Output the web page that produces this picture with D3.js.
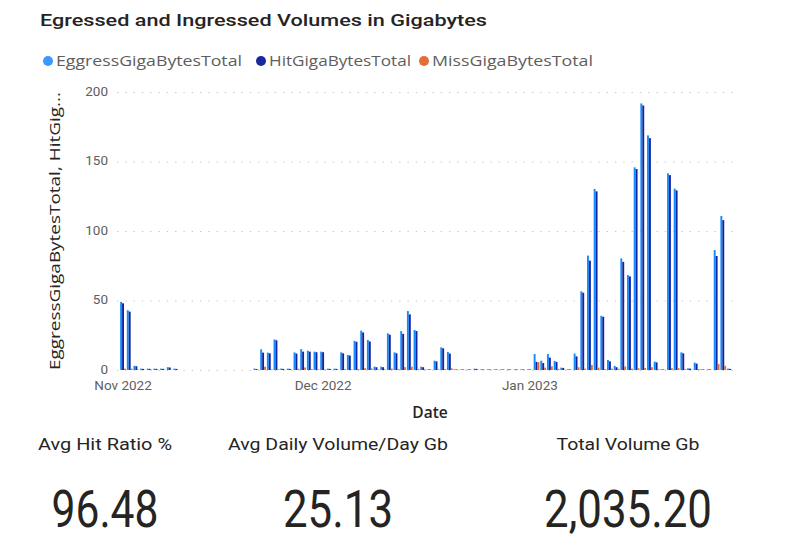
<!DOCTYPE html>
<html>
<head>
<meta charset="utf-8">
<script src="https://cdn.jsdelivr.net/npm/d3@7"></script>
<style>
  html, body { margin: 0; padding: 0; background: #fff; }
  svg { display: block; }
</style>
</head>
<body>
<svg id="chart" width="790" height="544"></svg>
<script>
// ---------- DATA ----------
const startDate = "2022-11-01";
const endDate = "2023-01-31";
const seriesNames = ["EggressGigaBytesTotal", "HitGigaBytesTotal", "MissGigaBytesTotal"];
const seriesColors = ["#118DFF", "#12239E", "#E66C37"];
const yTicks = [0, 50, 100, 150, 200];
const monthTicks = ["2022-11-01", "2022-12-01", "2023-01-01"];
const monthLabels = ["Nov 2022", "Dec 2022", "Jan 2023"];

// daily values, Nov 1 2022 .. Jan 31 2023 (null = no data)
const egress = [
  49, 43, 3, 1, 1, 1, 1, 2, 1,
  null, null, null, null, null, null, null, null, null, null, null,
  1, 14.9, 12.5, 22, 1, 1, 12.7, 15, 13.9, 13.2,
  13.2, 1, 1, 12.7, 10.8, 21, 28.3, 21.6, 2.4, 2.4, 26.4, 12.7, 28, 42.4, 28.8, 2.4, 0.5, 6.7, 16.3, 13,
  0.5, 0.5, 0.5, 1, 0.5, 0.5, 0.5, 0.5, 0.5, 0.5, 0.5,
  0.5, 11.5, 6.7, 11.5, 6.5, 1.7, 0.5, 11.8, 56.6, 82.3, 130.2, 39, 7.2, 2.9, 80.3, 68.3, 145.8, 191.8, 168.8,
  6, 0.5, 141.5, 130.5, 12.7, 1.2, 5.3, 0.5, 0.5, 86.3, 110.8, 1
];
const hit = [
  48, 42, 2.7, 0.8, 0.8, 0.8, 0.8, 1.8, 0.8,
  null, null, null, null, null, null, null, null, null, null, null,
  0.7, 12.5, 12, 21.4, 0.8, 0.8, 11.8, 13.2, 13.2, 12.8,
  12.8, 0.8, 0.8, 12, 10.4, 20.3, 27, 20.5, 2, 2, 25.4, 12, 26, 40, 28, 2, 0.4, 6.2, 15.6, 11.8,
  0.4, 0.4, 0.4, 0.8, 0.4, 0.4, 0.4, 0.4, 0.4, 0.4, 0.4,
  0.4, 5.8, 5, 8.9, 5.8, 1.5, 0.4, 9.8, 55.6, 78.7, 128.5, 38.3, 6.2, 2, 77.8, 67.3, 144.6, 190.3, 166.8,
  5.5, 0.4, 140.2, 129.2, 12, 1, 4.6, 0.4, 0.4, 82, 107.8, 0.8
];
const miss = [
  1, 1, 0.3, 0.2, 0.2, 0.2, 0.2, 0.2, 0.2,
  null, null, null, null, null, null, null, null, null, null, null,
  0.3, 2.4, 0.5, 0.6, 0.2, 0.2, 0.9, 1.8, 0.7, 0.4,
  0.4, 0.2, 0.2, 0.7, 0.4, 0.7, 1.3, 1.1, 0.4, 0.4, 1, 0.7, 2, 2.4, 0.8, 0.4, 0.1, 0.5, 0.7, 1.2,
  0.1, 0.1, 0.1, 0.2, 0.1, 0.1, 0.1, 0.1, 0.1, 0.1, 0.1,
  0.1, 5.7, 1.7, 2.6, 0.7, 0.2, 0.1, 2, 1, 3.6, 1.7, 0.7, 1, 0.9, 2.5, 1, 1.2, 1.5, 2,
  0.5, 0.1, 1.3, 1.3, 0.7, 0.2, 0.7, 0.1, 0.1, 4.3, 3, 0.2
];

const kpiLabels = ["Avg Hit Ratio %", "Avg Daily Volume/Day Gb", "Total Volume Gb"];
const kpiValues = ["96.48", "25.13", "2,035.20"];

// ---------- CHART ----------
const svg = d3.select("#chart");
const parse = d3.timeParse("%Y-%m-%d");
const fmtKey = d3.timeFormat("%Y-%m-%d");
const days = d3.timeDay.range(parse(startDate), d3.timeDay.offset(parse(endDate), 1)).map(fmtKey);
const series = [egress, hit, miss];

const plot = { left: 119.7, right: 733.3, top: 92, bottom: 370 };

const x = d3.scaleBand().domain(days).range([plot.left, plot.right]).paddingInner(0.12).paddingOuter(0.06);
const xs = d3.scaleBand().domain(d3.range(series.length)).range([0, x.bandwidth()]).padding(0.02);
const y = d3.scaleLinear().domain([0, 200]).range([plot.bottom, plot.top]);

const axisFont = "Roboto, 'Open Sans', sans-serif";

// Title
svg.append("text")
  .attr("x", 40).attr("y", 26)
  .attr("font-family", "Roboto, 'DejaVu Sans', sans-serif")
  .attr("font-weight", 500)
  .attr("font-size", 16.5)
  .attr("fill", "#252423")
  .attr("textLength", 447).attr("lengthAdjust", "spacingAndGlyphs")
  .text("Egressed and Ingressed Volumes in Gigabytes");

// Legend
const legendPos = [{cx: 48, tx: 56, w: 186}, {cx: 261, tx: 269, w: 142}, {cx: 424, tx: 432, w: 161}];
const legendCircleColors = ["#3A99FF", "#1A2A9E", "#E66C37"];
seriesNames.forEach((n, i) => {
  svg.append("circle").attr("cx", legendPos[i].cx).attr("cy", 61).attr("r", 5).attr("fill", legendCircleColors[i]);
  svg.append("text")
    .attr("x", legendPos[i].tx).attr("y", 66)
    .attr("font-family", "'Open Sans', 'Segoe UI', sans-serif")
    .attr("font-size", 14)
    .attr("fill", "#605E5C")
    .attr("textLength", legendPos[i].w).attr("lengthAdjust", "spacingAndGlyphs")
    .text(n);
});

// Gridlines
svg.append("g").selectAll("line").data(yTicks).join("line")
  .attr("x1", 117).attr("x2", 736)
  .attr("y1", d => y(d) + 0.5).attr("y2", d => y(d) + 0.5)
  .attr("stroke", "#C8C6C4").attr("stroke-width", 1.2)
  .attr("stroke-dasharray", "1.3,7");

// Y axis
const yAxis = d3.axisLeft(y).tickValues(yTicks).tickSize(0).tickPadding(0);
const gy = svg.append("g").attr("transform", "translate(108,0)").call(yAxis);
gy.select(".domain").remove();
gy.selectAll("text")
  .attr("font-family", axisFont)
  .attr("font-size", 13.5)
  .attr("fill", "#605E5C")
  .attr("dy", "0.25em");

// Y axis title
svg.append("text")
  .attr("transform", "translate(60,231) rotate(-90)")
  .attr("text-anchor", "middle")
  .attr("font-family", "'Open Sans', 'Segoe UI', sans-serif")
  .attr("font-size", 14.5)
  .attr("fill", "#252423")
  .attr("textLength", 278).attr("lengthAdjust", "spacingAndGlyphs")
  .text("EggressGigaBytesTotal, HitGig...");

// Bars
const barG = svg.append("g");
series.forEach((vals, si) => {
  barG.append("g").selectAll("rect")
    .data(days.map((d, i) => ({ d, v: vals[i] })).filter(o => o.v != null))
    .join("rect")
    .attr("x", o => x(o.d) + xs(si))
    .attr("width", xs.bandwidth())
    .attr("y", o => y(o.v))
    .attr("height", o => y(0) - y(o.v))
    .attr("fill", seriesColors[si]);
});

// X axis
const xAxis = d3.axisBottom(x).tickValues(monthTicks).tickFormat((d, i) => monthLabels[i]).tickSize(0).tickPadding(0);
const gx = svg.append("g").attr("transform", `translate(0,${plot.bottom})`).call(xAxis);
gx.select(".domain").remove();
gx.selectAll("text")
  .attr("font-family", axisFont)
  .attr("font-size", 13.5)
  .attr("fill", "#605E5C")
  .attr("dy", "1.47em");

// X title
svg.append("text")
  .attr("x", 430).attr("y", 418)
  .attr("text-anchor", "middle")
  .attr("font-family", "'Open Sans', 'Segoe UI', sans-serif")
  .attr("font-weight", 600)
  .attr("font-size", 15.5)
  .attr("fill", "#252423")
  .text("Date");

// KPI cards
const kpiCenters = [105, 338, 628];
const kpiLabelW = [134, 220, 143];
const kpiValueW = [107, 110, 168];
kpiLabels.forEach((l, i) => {
  svg.append("text")
    .attr("x", kpiCenters[i]).attr("y", 450)
    .attr("text-anchor", "middle")
    .attr("font-family", "Roboto, 'DejaVu Sans', sans-serif")
    .attr("font-weight", 400)
    .attr("font-size", 16)
    .attr("fill", "#252423")
    .attr("textLength", kpiLabelW[i]).attr("lengthAdjust", "spacingAndGlyphs")
    .text(l);
  svg.append("text")
    .attr("x", kpiCenters[i]).attr("y", 527)
    .attr("text-anchor", "middle")
    .attr("font-family", "Roboto, 'DejaVu Sans', sans-serif")
    .attr("font-weight", 400)
    .attr("font-size", 51)
    .attr("fill", "#252423")
    .attr("textLength", kpiValueW[i]).attr("lengthAdjust", "spacingAndGlyphs")
    .text(kpiValues[i]);
});
</script>
</body>
</html>
